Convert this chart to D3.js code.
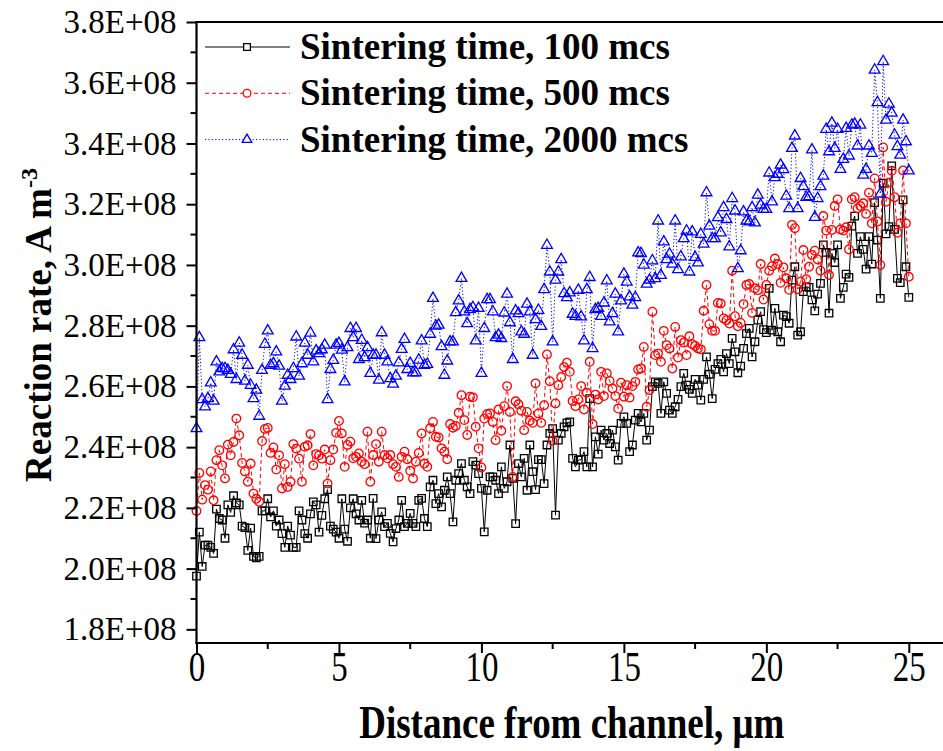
<!DOCTYPE html>
<html>
<head>
<meta charset="utf-8">
<script src="https://cdn.jsdelivr.net/npm/d3@7"></script>
<style>
  body { margin: 0; background: #fff; }
  svg { display: block; }
  text { font-family: "Liberation Serif", "Times New Roman", serif; fill: #000; }
</style>
</head>
<body>
<div id="chart"></div>
<script>
// distance between samples, um
var distStep = 0.1;

// reaction rate, units of 1E+08 A m-3
var rate100 = [
  1.975, 2.12, 2.007, 2.077, 2.077, 2.07, 2.05, 2.196, 2.165, 2.16, 2.10, 2.21, 2.185, 2.24, 2.216, 2.21, 2.14, 2.135, 2.06, 2.133,
  2.04, 2.035, 2.04, 2.19, 2.19, 2.23, 2.17, 2.19, 2.14, 2.16, 2.115, 2.07, 2.14, 2.11, 2.07, 2.07, 2.19, 2.16, 2.115, 2.10,
  2.18, 2.22, 2.21, 2.12, 2.175, 2.23, 2.26, 2.14, 2.13, 2.12,
  2.10, 2.23, 2.13, 2.09, 2.20, 2.23, 2.18, 2.16, 2.225, 2.15, 2.16, 2.10,
  2.231, 2.099, 2.16, 2.187, 2.138, 2.149, 2.116, 2.088, 2.132, 2.16, 2.225, 2.138, 2.149, 2.182, 2.149, 2.138, 2.225, 2.231, 2.165, 2.138,
  2.269, 2.291, 2.214, 2.247, 2.203, 2.258, 2.302, 2.247, 2.154, 2.291, 2.313, 2.346, 2.291, 2.269, 2.247, 2.352, 2.341, 2.313, 2.264, 2.121, 2.258, 2.302,
  2.302, 2.291, 2.247, 2.335, 2.264, 2.286, 2.407, 2.297, 2.148, 2.346, 2.302, 2.363, 2.258, 2.407, 2.319, 2.26, 2.359, 2.359, 2.28, 2.407,
  2.445, 2.461, 2.176, 2.423, 2.445, 2.467, 2.48, 2.483, 2.363, 2.335, 2.357, 2.359, 2.385, 2.335, 2.56, 2.335, 2.434, 2.377, 2.456, 2.423,
  2.445, 2.412, 2.456, 2.401, 2.357, 2.478, 2.5, 2.478, 2.385, 2.407, 2.489, 2.511,
  2.483, 2.511, 2.423, 2.456, 2.599, 2.615, 2.61, 2.511, 2.615, 2.577, 2.522, 2.511, 2.533, 2.557, 2.599, 2.643, 2.604, 2.59, 2.577, 2.623,
  2.604, 2.555, 2.623, 2.697, 2.64, 2.56, 2.656, 2.675, 2.689, 2.648, 2.708, 2.675, 2.758, 2.714, 2.645, 2.667, 2.725, 2.774, 2.791, 2.697,
  2.747, 2.818, 2.846, 2.787, 2.777, 2.923, 2.785, 2.857, 2.78, 2.747, 2.835,
  2.83, 2.808, 2.95, 2.994, 2.769, 2.78, 2.912, 2.928, 2.926, 2.885, 2.849, 2.904, 2.939, 3.066, 3.041, 2.841, 3.038, 3.008, 3.066, 2.89,
  2.926, 2.97, 2.959, 3.128, 3.161, 3.038, 3.093, 3.051, 2.986, 3.093, 3.003, 3.205, 3.082, 2.89, 3.269, 3.102, 3.126, 3.326, 3.117, 2.956,
  2.942, 3.214, 2.994, 2.893
];

var rate500 = [
  2.19, 2.315, 2.227, 2.275, 2.26, 2.32, 2.225, 2.357, 2.39, 2.34, 2.297, 2.408, 2.373, 2.417, 2.494, 2.439, 2.348, 2.32, 2.286, 2.346,
  2.247, 2.23, 2.22, 2.42, 2.46, 2.463, 2.381, 2.399, 2.326, 2.373, 2.264, 2.344, 2.269, 2.286, 2.41, 2.395, 2.362, 2.286, 2.401, 2.406,
  2.443, 2.34, 2.377, 2.373, 2.362, 2.392, 2.28, 2.357, 2.392, 2.447,
  2.486, 2.445, 2.335, 2.407, 2.418, 2.363, 2.368, 2.379, 2.352, 2.344, 2.451, 2.286, 2.374, 2.41, 2.352, 2.451, 2.374, 2.363, 2.374, 2.344,
  2.335, 2.302, 2.368, 2.385, 2.36, 2.322, 2.297, 2.352, 2.381, 2.445, 2.346, 2.335, 2.462, 2.483, 2.434, 2.432, 2.396, 2.385, 2.36, 2.476,
  2.464, 2.47, 2.513, 2.571, 2.489, 2.44, 2.566, 2.564, 2.467, 2.396, 2.333, 2.494, 2.509,
  2.511, 2.483, 2.423, 2.524, 2.454, 2.535, 2.601, 2.516, 2.302, 2.551, 2.541, 2.52, 2.456, 2.516, 2.487, 2.48, 2.61, 2.511, 2.48, 2.538,
  2.705, 2.617, 2.421, 2.544, 2.604, 2.631, 2.664, 2.678, 2.648, 2.552, 2.535, 2.557, 2.601, 2.524, 2.579, 2.681, 2.476, 2.573, 2.557, 2.648,
  2.568, 2.643, 2.618, 2.593, 2.568, 2.527, 2.612, 2.566, 2.604, 2.563, 2.601, 2.615, 2.656,
  2.659, 2.73, 2.533, 2.588, 2.846, 2.703, 2.708, 2.681, 2.783, 2.736, 2.725, 2.659, 2.796, 2.695, 2.752, 2.744, 2.703, 2.765, 2.739, 2.733,
  2.725, 2.722, 2.849, 2.934, 2.805, 2.783, 2.783, 2.875, 2.873, 2.824, 2.818, 2.807, 2.981, 2.831, 2.798, 2.809, 2.871, 2.934, 2.937, 2.842,
  2.923, 2.917, 3.003, 2.886, 2.934, 2.981, 2.996, 3.021, 3.003, 2.941, 2.992,
  2.956, 2.918, 3.132, 3.121, 2.92, 2.945, 3.049, 2.953, 2.994, 3.033, 3.047, 3.018, 2.981, 3.161, 3.113, 2.967, 3.115, 3.194, 3.216, 3.117,
  3.113, 3.124, 3.051, 3.216, 3.223, 3.186, 3.194, 3.203, 3.168, 3.238, 3.137, 3.285, 3.143, 3.0, 3.387, 3.208, 3.271, 3.31, 3.223, 3.106,
  3.137, 3.311, 3.137, 2.961
];

var rate2000 = [
  2.461, 2.761, 2.557, 2.533, 2.56, 2.612, 2.552, 2.681, 2.648, 2.659, 2.659, 2.653, 2.64, 2.721, 2.623, 2.743, 2.703, 2.618, 2.67, 2.604,
  2.56, 2.588, 2.502, 2.653, 2.739, 2.783, 2.67, 2.675, 2.714, 2.667, 2.552, 2.601, 2.637, 2.623, 2.659, 2.763, 2.634, 2.675, 2.743, 2.703,
  2.776, 2.681, 2.717, 2.708, 2.721, 2.736, 2.557, 2.656, 2.686, 2.736,
  2.742, 2.72, 2.615, 2.728, 2.791, 2.761, 2.791, 2.689, 2.752, 2.695, 2.728, 2.643, 2.703, 2.703, 2.621, 2.777, 2.703, 2.681, 2.626, 2.608,
  2.634, 2.678, 2.722, 2.755, 2.656, 2.676, 2.645, 2.645, 2.687, 2.75, 2.67, 2.673, 2.772, 2.89, 2.799, 2.802, 2.731, 2.637, 2.684, 2.747,
  2.747, 2.843, 2.882, 2.956, 2.846, 2.807, 2.853, 2.86, 2.75, 2.857, 2.643, 2.791, 2.886,
  2.886, 2.846, 2.761, 2.769, 2.758, 2.842, 2.904, 2.81, 2.689, 2.849, 2.84, 2.78, 2.772, 2.871, 2.846, 2.703, 2.82, 2.851, 2.798, 2.919,
  3.065, 2.977, 2.747, 2.95, 2.977, 3.018, 2.906, 2.893, 2.908, 2.838, 2.831, 2.917, 2.829, 2.75, 2.919, 2.959, 2.725, 2.853, 2.857, 2.831,
  2.875, 2.948, 2.813, 2.84, 2.904, 2.78, 2.882, 2.97, 2.944, 2.895, 2.868, 2.893, 3.04,
  3.038, 3.0, 2.937, 2.95, 3.014, 2.955, 3.145, 2.966, 3.076, 3.018, 3.036, 3.003, 3.145, 2.985, 3.027, 3.087, 3.112, 2.977, 3.109, 3.025,
  3.007, 3.101, 3.069, 3.238, 3.128, 3.087, 3.087, 3.156, 3.106, 3.189, 3.15, 3.06, 3.219, 3.178, 2.988, 3.047, 3.175, 3.145, 3.142, 3.189,
  3.139, 3.23, 3.197, 3.183, 3.183, 3.303, 3.208, 3.288, 3.299, 3.329, 3.314,
  3.227, 3.186, 3.384, 3.425, 3.186, 3.285, 3.258, 3.223, 3.225, 3.379, 3.157, 3.219, 3.258, 3.293, 3.447, 3.373, 3.467, 3.384, 3.447, 3.315,
  3.348, 3.45, 3.359, 3.461, 3.464, 3.392, 3.461, 3.296, 3.315, 3.392, 3.368, 3.642, 3.535, 3.234, 3.67, 3.477, 3.53, 3.5, 3.428, 3.39,
  3.362, 3.477, 3.406, 3.31
];

var seriesNames = ["Sintering time, 100 mcs", "Sintering time, 500 mcs", "Sintering time, 2000 mcs"];
var xTicks = [0, 5, 10, 15, 20, 25];
var xMinorTicks = [2.5, 7.5, 12.5, 17.5, 22.5];
var yTicks = [1.8, 2.0, 2.2, 2.4, 2.6, 2.8, 3.0, 3.2, 3.4, 3.6, 3.8];
var yMinorTicks = [1.9, 2.1, 2.3, 2.5, 2.7, 2.9, 3.1, 3.3, 3.5, 3.7];

var W = 943, H = 751;
var padL = 196.5, padT = 22, padR = 943, padB = 643;
var tall = 1.3; // the original lettering on the x axis is stretched vertically

var svg = d3.select('#chart').append('svg')
  .attr('width', W)
  .attr('height', H);

var x = d3.scaleLinear().domain([0, 26.2]).range([padL, padR]);
var y = d3.scaleLinear().domain([1.755, 3.8]).range([padB, padT]);

var styles = [
  { data: rate100, color: '#000000', dash: null, symbol: d3.symbolSquare, size: 56 },
  { data: rate500, color: '#ff0000', dash: '4,3', symbol: d3.symbolCircle, size: 58 },
  { data: rate2000, color: '#0000ff', dash: '1.2,2.2', symbol: d3.symbolTriangle, size: 50 }
];

var line = d3.line()
  .x(function(d, i) { return x(i * distStep); })
  .y(function(d) { return y(d); });

// series
var plot = svg.append('g').attr('class', 'series');
styles.forEach(function(s) {
  var g = plot.append('g');
  g.append('path')
    .attr('d', line(s.data))
    .attr('fill', 'none')
    .attr('stroke', s.color)
    .attr('stroke-width', 1)
    .attr('stroke-dasharray', s.dash);
  g.selectAll('path.mk')
    .data(s.data)
    .enter().append('path')
    .attr('class', 'mk')
    .attr('d', d3.symbol().type(s.symbol).size(s.size))
    .attr('transform', function(d, i) {
      return 'translate(' + x(i * distStep) + ',' + y(d) + ')';
    })
    .attr('fill', 'none')
    .attr('stroke', s.color)
    .attr('stroke-width', 1.3);
});

// axes
var yAxis = svg.append('g')
  .attr('transform', 'translate(' + padL + ',0)')
  .call(d3.axisLeft(y).tickValues(yTicks).tickSize(10).tickPadding(10)
    .tickFormat(function(d) { return d.toFixed(1) + 'E+08'; }));
yAxis.append('g').selectAll('line')
  .data(yMinorTicks).enter().append('line')
  .attr('x1', -6).attr('x2', 0)
  .attr('y1', function(d) { return y(d); })
  .attr('y2', function(d) { return y(d); })
  .attr('stroke', '#000').attr('stroke-width', 2);

var xAxis = svg.append('g')
  .attr('transform', 'translate(0,' + padB + ')')
  .call(d3.axisBottom(x).tickValues(xTicks).tickSize(10)
    .tickFormat(d3.format('d')));
xAxis.append('g').selectAll('line')
  .data(xMinorTicks).enter().append('line')
  .attr('x1', function(d) { return x(d); })
  .attr('x2', function(d) { return x(d); })
  .attr('y1', 0).attr('y2', 6)
  .attr('stroke', '#000').attr('stroke-width', 2);

[yAxis, xAxis].forEach(function(a) {
  a.select('.domain').remove();
  a.selectAll('.tick line').attr('stroke-width', 2);
  a.selectAll('text').style('font-family', '"Liberation Serif", serif').attr('fill', '#000');
});
yAxis.selectAll('.tick text').style('font-size', '33px');
xAxis.selectAll('.tick text')
  .style('font-size', '33px')
  .attr('dy', 0)
  .attr('y', 38 / tall)
  .attr('transform', 'scale(1,' + tall + ')');

svg.append('line')
  .attr('x1', padL).attr('x2', padL).attr('y1', padT - 1).attr('y2', padB + 1)
  .attr('stroke', '#000').attr('stroke-width', 2.2);
svg.append('line')
  .attr('x1', padL - 1).attr('x2', padR).attr('y1', padB).attr('y2', padB)
  .attr('stroke', '#000').attr('stroke-width', 2.2);
svg.append('line')
  .attr('x1', padL - 1).attr('x2', padR).attr('y1', padT).attr('y2', padT)
  .attr('stroke', '#000').attr('stroke-width', 2.2);

// axis titles
svg.append('text')
  .attr('transform', 'translate(' + ((padL + padR) / 2 + 2) + ',738) scale(1,' + (tall - 0.05) + ')')
  .attr('text-anchor', 'middle')
  .style('font-size', '37px')
  .style('font-weight', 'bold')
  .text('Distance from channel, \u03bcm');

var yTitle = svg.append('text')
  .attr('transform', 'translate(51,' + 325 + ') rotate(-90)')
  .attr('text-anchor', 'middle')
  .style('font-size', '37px')
  .style('font-weight', 'bold');
yTitle.append('tspan').text('Reaction rate, A m');
yTitle.append('tspan').attr('dy', -14).style('font-size', '24px').text('-3');

// legend
var legend = svg.append('g');
styles.forEach(function(s, i) {
  var cy = 47 + i * 46.3;
  var g = legend.append('g').attr('transform', 'translate(0,' + cy + ')');
  g.append('line')
    .attr('x1', 205).attr('x2', 290)
    .attr('stroke', s.color).attr('stroke-width', 1)
    .attr('stroke-dasharray', s.dash);
  g.append('path')
    .attr('d', d3.symbol().type(s.symbol).size(s.size * 0.8))
    .attr('transform', 'translate(247,0)')
    .attr('fill', '#fff')
    .attr('stroke', s.color).attr('stroke-width', 1.3);
  g.append('text')
    .attr('x', 300).attr('y', 12)
    .style('font-size', '37px')
    .style('font-weight', 'bold')
    .text(seriesNames[i]);
});
</script>
</body>
</html>
